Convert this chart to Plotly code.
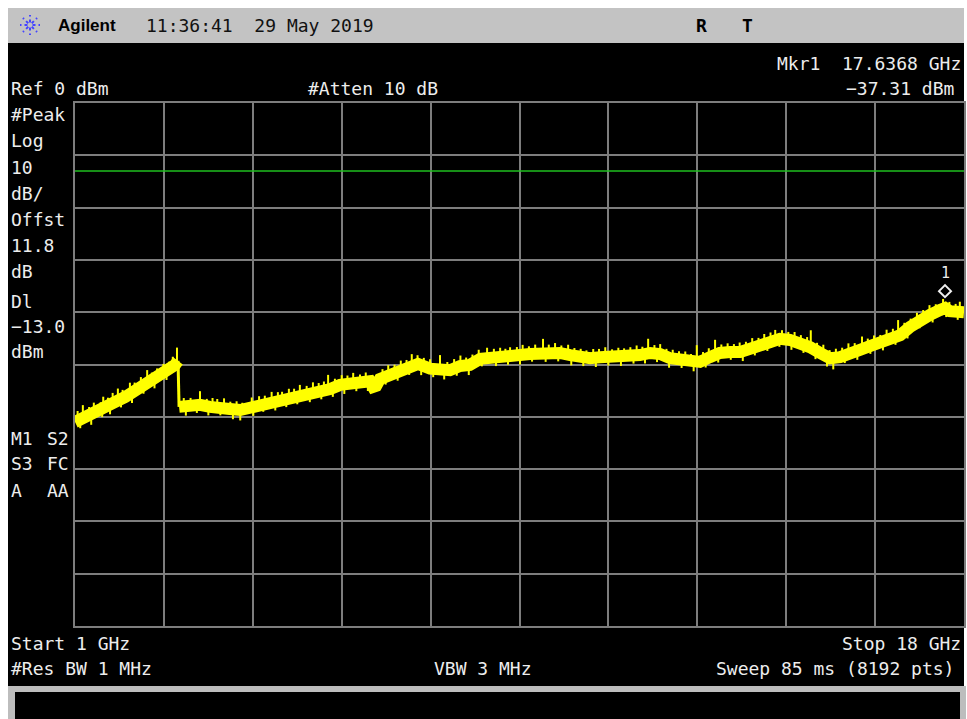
import math
import numpy as np
import plotly.graph_objects as go

W, H = 967, 719
MONO = "DejaVu Sans Mono"
TXT = "#ededed"
GRID = "#7d7d7d"

# ---- sweep settings ----
f_start, f_stop = 1.0, 18.0          # GHz
ref_level, db_per_div = 0.0, 10.0     # dBm, dB/div
display_line = -13.0                  # dBm
mkr_freq, mkr_level = 17.6368, -37.31

# ---- trace (GHz, dBm): below the 3 GHz band break ----
freq_lo = [1.00, 1.19, 1.38, 1.57, 1.76, 1.96, 2.15, 2.34, 2.53, 2.72, 2.91, 2.97]
level_lo = [-61.0, -60.2, -59.3, -58.3, -57.2, -56.2, -55.1, -53.9, -52.8, -51.6, -50.1, -49.3]

# ---- trace (GHz, dBm): above the band break ----
freq_hi = [2.99, 3.20, 3.39, 3.58, 3.77, 3.96, 4.16, 4.35, 4.54, 4.73, 4.92, 5.11, 5.30,
           5.49, 5.69, 5.88, 6.07, 6.26, 6.45, 6.64, 6.70, 6.76, 6.83, 7.02, 7.22, 7.41,
           7.56, 7.79, 7.98, 8.17, 8.36, 8.55, 8.75, 8.94, 9.13, 9.32, 9.51, 9.70, 9.89,
           10.08, 10.27, 10.47, 10.66, 10.85, 11.04, 11.23, 11.42, 11.61, 11.80, 12.00,
           12.19, 12.38, 12.57, 12.76, 12.95, 13.14, 13.33, 13.53, 13.72, 13.91, 14.10,
           14.29, 14.48, 14.67, 14.86, 15.06, 15.25, 15.44, 15.63, 15.82, 16.01, 16.20,
           16.39, 16.59, 16.78, 16.97, 17.16, 17.35, 17.54, 17.64, 17.73, 17.92, 18.00]
level_hi = [-58.1, -57.9, -57.7, -58.1, -58.1, -58.5, -58.7, -58.3, -57.7, -57.2, -56.8, -56.4, -56.0,
            -55.4, -55.1, -54.7, -53.9, -53.5, -53.5, -53.2, -54.3, -54.1, -52.8, -52.0, -51.2, -50.3,
            -49.9, -50.8, -51.2, -51.1, -50.3, -50.1, -48.9, -48.6, -48.6, -48.4, -48.2, -48.0, -47.8,
            -47.8, -47.8, -48.2, -48.8, -48.8, -48.6, -48.6, -48.6, -48.4, -48.2, -47.8,
            -48.0, -48.8, -49.1, -49.5, -49.5, -48.6, -47.8, -47.6, -47.6, -47.0, -46.3,
            -45.5, -45.1, -45.3, -45.9, -46.7, -47.8, -48.8, -48.6, -47.6, -47.2, -46.5,
            -45.9, -44.9, -44.4, -42.8, -41.5, -40.5, -39.6, -39.2, -39.8, -40.0, -40.0]

# ---- noise peaks above the trace: (GHz, dB above trace) ----
noise_up = [(1.05, 1.9), (1.15, 2.6), (1.27, 1.7), (1.36, 2.1), (1.49, 1.5), (1.54, 2.3), (1.63, 1.6),
            (1.72, 2.0), (1.82, 2.3), (1.91, 1.6), (2.05, 2.2), (2.14, 1.7), (2.26, 2.0), (2.38, 2.6),
            (2.47, 1.6), (2.57, 1.8), (2.69, 1.9), (2.80, 1.5), (2.87, 1.9), (2.95, 2.8),
            (3.08, 1.6), (3.21, 1.5), (3.39, 2.6), (3.52, 1.4), (3.63, 1.7), (3.72, 1.5), (3.85, 1.8),
            (3.97, 1.4), (4.09, 1.6), (4.20, 1.3), (4.38, 1.9), (4.52, 1.7), (4.63, 1.5), (4.76, 1.9),
            (4.88, 1.6), (4.96, 1.5), (5.09, 1.8), (5.19, 1.6), (5.30, 2.1), (5.43, 1.5), (5.55, 1.9),
            (5.66, 1.6), (5.76, 1.7), (5.84, 2.8), (5.97, 1.6), (6.10, 1.8), (6.21, 1.5), (6.32, 1.9),
            (6.45, 1.6), (6.56, 1.8), (6.88, 1.7), (6.99, 2.0), (7.11, 1.6), (7.23, 1.9), (7.34, 1.5),
            (7.44, 2.2), (7.55, 1.7), (7.67, 1.6), (7.79, 1.8), (7.98, 3.0), (8.12, 1.6), (8.25, 1.8),
            (8.37, 2.0), (8.48, 1.5), (8.60, 1.7), (8.72, 1.9), (8.88, 1.9), (9.01, 1.6), (9.13, 1.8),
            (9.23, 1.5), (9.32, 1.7), (9.45, 1.6), (9.56, 1.9), (9.68, 1.5), (9.80, 1.7), (9.95, 2.7),
            (10.06, 1.6), (10.18, 1.9), (10.30, 1.5), (10.43, 1.9), (10.55, 1.6), (10.67, 1.8),
            (10.78, 1.5), (10.91, 1.7), (11.02, 1.6), (11.14, 1.9), (11.27, 1.5), (11.39, 1.8),
            (11.50, 1.6), (11.62, 1.7), (11.74, 1.9), (11.85, 1.5), (11.96, 2.8), (12.08, 1.6),
            (12.19, 1.9), (12.31, 1.5), (12.43, 1.7), (12.55, 1.6), (12.67, 1.8), (12.78, 1.5),
            (12.89, 3.2), (13.01, 1.6), (13.12, 1.8), (13.24, 2.9), (13.36, 1.6), (13.48, 1.7),
            (13.60, 1.5), (13.71, 1.8), (13.83, 1.6), (13.95, 1.9), (14.07, 1.5), (14.18, 1.8),
            (14.30, 1.6), (14.39, 1.9), (14.52, 1.7), (14.64, 1.5), (14.76, 1.8), (14.88, 1.6),
            (15.00, 1.7), (15.07, 3.3), (15.19, 1.6), (15.31, 1.9), (15.43, 1.5), (15.55, 1.7),
            (15.67, 1.6), (15.79, 1.8), (15.91, 1.5), (16.05, 2.4), (16.16, 1.6), (16.28, 1.8),
            (16.40, 1.5), (16.52, 1.9), (16.64, 1.6), (16.74, 3.0), (16.86, 1.7), (16.98, 1.5),
            (17.10, 1.8), (17.22, 1.6), (17.34, 1.9), (17.46, 1.5), (17.60, 1.9), (17.72, 1.7),
            (17.84, 1.5), (17.92, 2.0)]

# ---- noise dips below the trace: (GHz, dB below trace) ----
noise_dn = [(1.10, 1.6), (1.31, 1.9), (1.52, 1.5), (1.67, 1.8), (1.88, 1.6), (2.09, 1.9), (2.31, 1.5),
            (2.52, 1.7), (2.75, 1.6), (3.12, 1.8), (3.33, 1.5), (3.55, 1.7), (3.78, 1.6), (4.02, 1.9),
            (4.16, 2.0), (4.41, 1.7), (4.60, 1.5), (4.83, 1.8), (5.04, 1.6), (5.25, 1.5), (5.49, 1.8),
            (5.71, 1.6), (5.93, 1.7), (6.15, 1.9), (6.38, 1.6), (6.60, 1.8), (6.94, 1.5), (7.17, 1.7),
            (7.39, 1.6), (7.62, 1.9), (7.85, 1.5), (8.06, 1.7), (8.30, 1.6), (8.53, 1.9), (8.78, 1.5),
            (9.05, 1.7), (9.28, 1.6), (9.51, 1.8), (9.74, 1.5), (10.00, 1.7), (10.24, 1.6), (10.49, 1.9),
            (10.72, 1.5), (10.96, 1.8), (11.20, 1.6), (11.44, 1.7), (11.68, 1.5), (11.90, 1.8),
            (12.13, 1.6), (12.36, 1.9), (12.60, 1.5), (12.83, 1.8), (13.06, 1.6), (13.30, 1.7),
            (13.54, 1.5), (13.77, 1.9), (14.00, 1.6), (14.24, 1.7), (14.47, 1.5), (14.70, 1.8),
            (14.93, 1.6), (15.16, 1.7), (15.38, 1.9), (15.50, 2.2), (15.72, 1.6), (15.96, 1.8),
            (16.21, 1.5), (16.45, 1.7), (16.69, 1.6), (16.92, 1.8), (17.15, 1.5), (17.40, 1.7),
            (17.66, 1.6), (17.88, 1.5)]

YEL = "#ffff00"
fig = go.Figure()

for fx, lv in ((freq_lo, level_lo), (freq_hi, level_hi)):
    fig.add_trace(go.Scatter(x=fx, y=lv, mode="lines",
                             line=dict(color=YEL, width=12), hoverinfo="skip"))

# vertical step at the band break
fig.add_trace(go.Scatter(x=[freq_lo[-1], freq_hi[0]], y=[level_lo[-1], level_hi[0]],
                         mode="lines", line=dict(color=YEL, width=3), hoverinfo="skip"))

# noise whiskers hanging off the trace
trace_f = np.array(freq_lo + freq_hi)
trace_l = np.array(level_lo + level_hi)
sx, sy = [], []
for f, h in noise_up:
    base = float(np.interp(f, trace_f, trace_l))
    sx += [f, f, None]
    sy += [base, base + h, None]
for f, h in noise_dn:
    base = float(np.interp(f, trace_f, trace_l))
    sx += [f, f, None]
    sy += [base, base - h, None]
fig.add_trace(go.Scatter(x=sx, y=sy, mode="lines",
                         line=dict(color=YEL, width=2), hoverinfo="skip"))

# display line
fig.add_trace(go.Scatter(x=[f_start, f_stop], y=[display_line, display_line], mode="lines",
                         line=dict(color="#1fbf1f", width=1.5), hoverinfo="skip"))

# plot area in pixels
X0, X1, Y0, Y1 = 75, 964, 103, 626


def px(x):
    return x / W


def py(y):
    return 1 - y / H


shapes = []


def rect(x0, y0, x1, y1, color):
    shapes.append(dict(type="rect", xref="paper", yref="paper", x0=px(x0), x1=px(x1),
                       y0=py(y1), y1=py(y0), fillcolor=color, line=dict(width=0),
                       layer="below"))


rect(8, 8, 964, 43, "#c3c3c3")
rect(8, 43, 964, 686, "#000000")
rect(8, 686, 966, 719, "#bdbdbd")
rect(15, 692, 960, 719, "#000000")

# starburst logo
cx, cy = 30, 25
for k in range(8):
    a = k * math.pi / 4
    shapes.append(dict(type="line", xref="paper", yref="paper",
                       x0=px(cx + 2.5 * math.cos(a)), y0=py(cy + 2.5 * math.sin(a)),
                       x1=px(cx + 10 * math.cos(a)), y1=py(cy + 10 * math.sin(a)),
                       line=dict(color="#4646ff", width=2, dash="dot")))

# marker diamond just above the marker point
shapes.append(dict(type="path", xref="x", yref="y", xsizemode="pixel", ysizemode="pixel",
                   xanchor=mkr_freq, yanchor=mkr_level,
                   path="M 0,1 L 6,7 L 0,13 L -6,7 Z",
                   line=dict(color="#f0f0f0", width=2), fillcolor="rgba(0,0,0,0)"))

ann = []


def txt(x, y, s, anchor="left", color=TXT, size=18, family=MONO, bold=False):
    if bold:
        s = "<b>" + s + "</b>"
    ann.append(dict(xref="paper", yref="paper", x=px(x), y=py(y), text=s,
                    xanchor=anchor, yanchor="middle", showarrow=False,
                    font=dict(family=family, size=size, color=color)))


# header bar
txt(56, 25, "Agilent", family="Liberation Sans", size=17, color="#000000", bold=True)
txt(144, 25, "11:36:41  29 May 2019", color="#111111")
txt(694, 25, "R", color="#000000", bold=True)
txt(740, 25, "T", color="#000000", bold=True)

# top annotations
txt(963, 64, "Mkr1  17.6368 GHz", anchor="right")
txt(956, 89, "\u221237.31 dBm", anchor="right")
txt(9, 89, "Ref 0 dBm")
txt(306, 89, "#Atten 10 dB")

# left column
left_rows = [(115, "#Peak"), (141, "Log"), (167, "10"), (193, "dB/"), (219, "Offst"),
             (245, "11.8"), (271, "dB"), (301, "Dl"), (326, "\u221213.0"), (351, "dBm")]
for y, s in left_rows:
    txt(9, y, s)
for y, a, b in ((439, "M1", "S2"), (464, "S3", "FC"), (490, "A", "AA")):
    txt(9, y, a)
    txt(71, y, b, anchor="right")

# bottom annotations
txt(9, 643, "Start 1 GHz")
txt(963, 643, "Stop 18 GHz", anchor="right")
txt(9, 668, "#Res BW 1 MHz")
txt(432, 668, "VBW 3 MHz")
txt(956, 668, "Sweep 85 ms (8192 pts)", anchor="right")

# marker number
ann.append(dict(xref="x", yref="y", x=mkr_freq, y=mkr_level, text="1", showarrow=False,
                yanchor="bottom", yshift=14, font=dict(family=MONO, size=15, color=TXT)))

axis_common = dict(showgrid=True, gridcolor=GRID, gridwidth=2, zeroline=False,
                   showline=True, linecolor=GRID, linewidth=2, mirror=True,
                   showticklabels=False, ticks="", fixedrange=True)

fig.update_layout(
    width=W, height=H, margin=dict(l=0, r=0, t=0, b=0),
    paper_bgcolor="#ffffff", plot_bgcolor="rgba(0,0,0,0)",
    showlegend=False, shapes=shapes, annotations=ann,
    xaxis=dict(range=[f_start, f_stop], tick0=f_start, dtick=(f_stop - f_start) / 10,
               domain=[px(X0), px(X1)], **axis_common),
    yaxis=dict(range=[ref_level - 10 * db_per_div, ref_level], tick0=0, dtick=db_per_div,
               domain=[py(Y1), py(Y0)], **axis_common),
)

fig.write_html("out.html", config={"displayModeBar": False})
